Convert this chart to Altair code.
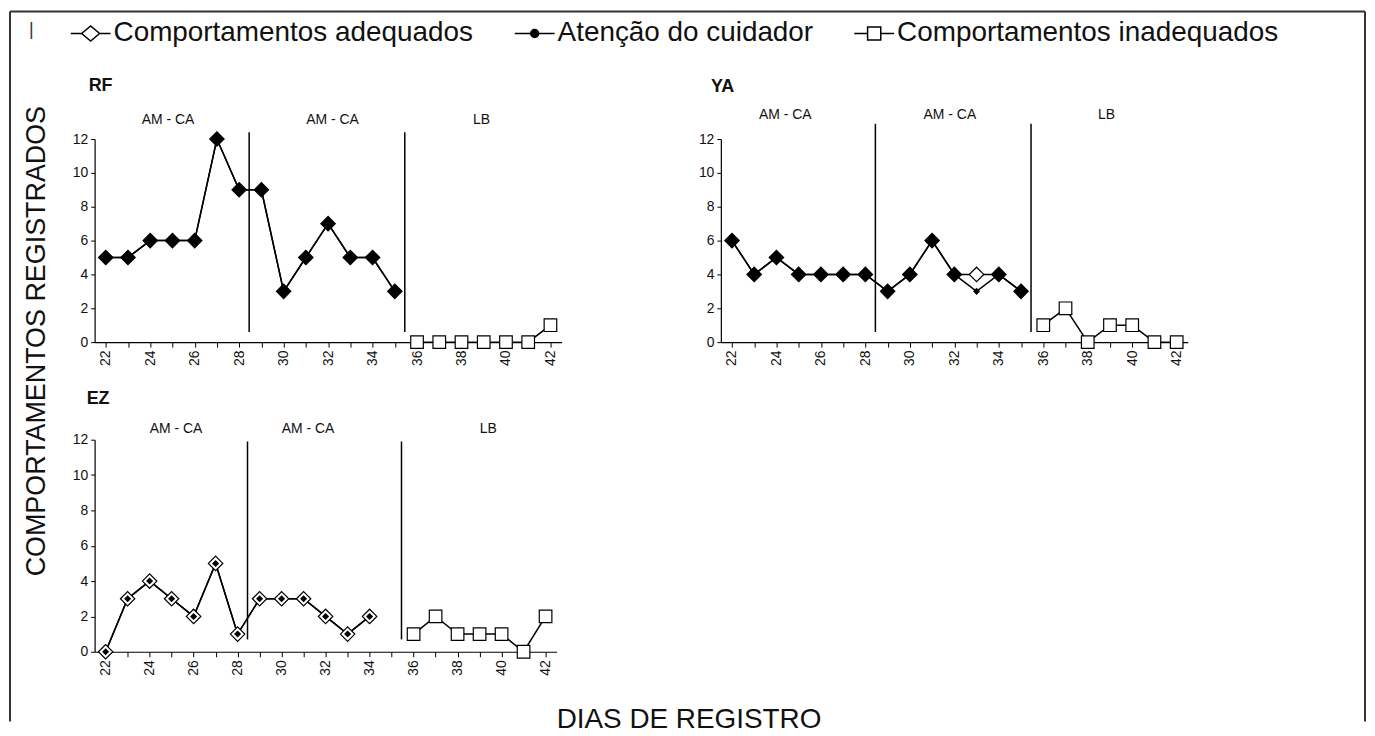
import altair as alt
import pandas as pd

# ---------------- data ----------------
DAYS_TREAT = [22, 23, 24, 25, 26, 27, 28, 29, 30, 31, 32, 33, 34, 35]
DAYS_TREAT_EZ = [22, 23, 24, 25, 26, 27, 28, 29, 30, 31, 32, 33, 34]
DAYS_LB = [36, 37, 38, 39, 40, 41, 42]

RF_ADEQUADOS = [5, 5, 6, 6, 6, 12, 9, 9, 3, 5, 7, 5, 5, 3]
RF_ATENCAO = [5, 5, 6, 6, 6, 12, 9, 9, 3, 5, 7, 5, 5, 3]
RF_INADEQUADOS = [0, 0, 0, 0, 0, 0, 1]

YA_ADEQUADOS = [6, 4, 5, 4, 4, 4, 4, 3, 4, 6, 4, 4, 4, 3]
YA_ATENCAO = [6, 4, 5, 4, 4, 4, 4, 3, 4, 6, 4, 3, 4, 3]
YA_INADEQUADOS = [1, 2, 0, 1, 1, 0, 0]

EZ_ADEQUADOS = [0, 3, 4, 3, 2, 5, 1, 3, 3, 3, 2, 1, 2]
EZ_ATENCAO = [0, 3, 4, 3, 2, 5, 1, 3, 3, 3, 2, 1, 2]
EZ_INADEQUADOS = [1, 2, 1, 1, 1, 0, 2]

SERIES = ["Comportamentos adequados", "Atenção do cuidador", "Comportamentos inadequados"]
PHASE_NAMES = ["AM - CA", "AM - CA", "LB"]
PHASE_CHANGES = [28.45, 35.45]
X_TICKS = list(range(22, 43))
Y_TICKS = [0, 2, 4, 6, 8, 10, 12]

# ---------------- styles ----------------
FONT = "Liberation Sans"
INK = "#111111"
LEGEND_SYMBOLS = [
    "M-1,0L-0.45,0M0.45,0L1,0M-0.45,0L0,-0.375L0.45,0L0,0.375Z",
    "M-1,0L1,0M-0.2,0A0.2,0.2,0,1,0,0.2,0A0.2,0.2,0,1,0,-0.2,0Z",
    "M-1,0L-0.33,0M0.33,0L1,0M-0.33,-0.33L0.33,-0.33L0.33,0.33L-0.33,0.33Z",
]
LEGEND_FILLS = ["white", "black", "white"]
LEGEND_STROKES = ["black", "black", "black"]

PANEL_CFG = {
    "RF": dict(width=469, height=204, label_x=[24.8, 32.2, 38.9], label_y=13.1,
               line_y=(0.6, 12.4), coincident=True, title_x=-6, title_y=-48),
    "YA": dict(width=469, height=204, label_x=[24.4, 31.8, 38.85], label_y=13.4,
               line_y=(0.6, 12.9), coincident=True, title_x=-10, title_y=-47),
    "EZ": dict(width=464, height=213, label_x=[25.2, 31.2, 39.4], label_y=12.6,
               line_y=(0.7, 11.9), coincident=False, title_x=-8, title_y=-36),
}


def panel(name, days_t, adeq, aten, inad, extra=()):
    cfg = PANEL_CFG[name]
    xs = alt.Scale(domain=[21.5, 42.5], nice=False, zero=False)
    ys = alt.Scale(domain=[0, 12], nice=False)
    x_axis = alt.Axis(values=X_TICKS, labelExpr="datum.value % 2 == 0 ? datum.label : ''",
                      labelAngle=270, title=None, grid=False, tickSize=5, labelPadding=3,
                      labelFlush=False, labelOverlap=False)
    y_axis = alt.Axis(values=Y_TICKS, title=None, grid=False, tickSize=4, labelPadding=3,
                      labelFlush=False, labelOverlap=False)
    X = alt.X("dia:Q", scale=xs, axis=x_axis)

    treat = pd.DataFrame({"dia": days_t, "adequados": adeq, "atencao": aten})
    lb = pd.DataFrame({"dia": DAYS_LB, "inadequados": inad})
    phases = pd.DataFrame({"dia": PHASE_CHANGES,
                           "y0": [cfg["line_y"][0]] * len(PHASE_CHANGES),
                           "y1": [cfg["line_y"][1]] * len(PHASE_CHANGES)})
    labels = pd.DataFrame({"dia": cfg["label_x"], "y": [cfg["label_y"]] * 3, "fase": PHASE_NAMES})

    rules = alt.Chart(phases).mark_rule(color="black", strokeWidth=1.5).encode(
        x=X, y=alt.Y("y0:Q", scale=ys, axis=y_axis), y2="y1:Q")
    ptext = alt.Chart(labels).mark_text(fontSize=14, color=INK, baseline="middle").encode(
        x=X, y=alt.Y("y:Q", scale=ys, axis=y_axis), text="fase:N")
    line_a = alt.Chart(treat).mark_line(color="black", strokeWidth=1.5).encode(
        x=X, y=alt.Y("adequados:Q", scale=ys, axis=y_axis))
    line_b = alt.Chart(treat).mark_line(color="black", strokeWidth=1.5).encode(
        x=X, y=alt.Y("atencao:Q", scale=ys, axis=y_axis))
    line_c = alt.Chart(lb).mark_line(color="black", strokeWidth=1.5).encode(
        x=X, y=alt.Y("inadequados:Q", scale=ys, axis=y_axis))
    if cfg["coincident"]:
        fill_a = alt.condition("datum.adequados == datum.atencao", alt.value("black"), alt.value("white"))
    else:
        fill_a = alt.value("white")
    pts_a = alt.Chart(treat).mark_point(shape="diamond", size=210, filled=True, stroke="black",
                                        strokeWidth=1.2, opacity=1).encode(
        x=X, y=alt.Y("adequados:Q", scale=ys, axis=y_axis), fill=fill_a)
    pts_b = alt.Chart(treat).mark_point(shape="diamond", size=50, filled=True, color="black",
                                        opacity=1).encode(
        x=X, y=alt.Y("atencao:Q", scale=ys, axis=y_axis))
    pts_c = alt.Chart(lb).mark_point(shape="square", size=160, filled=True, fill="white",
                                     stroke="black", strokeWidth=1.2, opacity=1).encode(
        x=X, y=alt.Y("inadequados:Q", scale=ys, axis=y_axis))
    title = alt.Chart(pd.DataFrame({"nome": [name]})).mark_text(
        fontSize=18, fontWeight="bold", color=INK, align="left", baseline="alphabetic").encode(
        x=alt.value(cfg["title_x"]), y=alt.value(cfg["title_y"]), text="nome:N")
    return alt.layer(rules, ptext, line_a, line_b, line_c, pts_a, pts_b, pts_c, title,
                     *extra).properties(width=cfg["width"], height=cfg["height"])


one = pd.DataFrame({"k": [0]})
frame_style = dict(color="#333333", strokeWidth=2)
frame_left = alt.Chart(one).mark_rule(**frame_style).encode(
    x=alt.value(-85), y=alt.value(-128), y2=alt.value(585))
frame_top = alt.Chart(one).mark_rule(**frame_style).encode(
    x=alt.value(-85), x2=alt.value(1276), y=alt.value(-128))
frame_right = alt.Chart(one).mark_rule(**frame_style).encode(
    x=alt.value(1276), y=alt.value(-128), y2=alt.value(585))
y_title = alt.Chart(pd.DataFrame({"t": ["COMPORTAMENTOS REGISTRADOS"]})).mark_text(
    fontSize=27, color=INK, angle=270, align="center", baseline="middle").encode(
    x=alt.value(-58), y=alt.value(203), text="t:N")

leg = alt.Legend(title="|", orient="none", legendX=-66, legendY=-127, direction="horizontal",
                 columns=3, columnPadding=38, labelOffset=2, labelFontSize=28, labelFont=FONT,
                 labelColor=INK, labelLimit=800, symbolSize=1600, symbolStrokeWidth=1.5,
                 symbolStrokeColor="black", titleOrient="left", titleFontSize=18,
                 titleFontWeight="normal", titleColor="#333333", titlePadding=36, padding=0)
legend_src = alt.Chart(pd.DataFrame({"serie": SERIES})).transform_filter("false").mark_point(
    filled=True, strokeWidth=1.5, opacity=1).encode(
    shape=alt.Shape("serie:N", scale=alt.Scale(domain=SERIES, range=LEGEND_SYMBOLS), legend=leg),
    fill=alt.Fill("serie:N", scale=alt.Scale(domain=SERIES, range=LEGEND_FILLS), legend=leg),
    stroke=alt.Stroke("serie:N", scale=alt.Scale(domain=SERIES, range=LEGEND_STROKES), legend=leg))

x_title = alt.Chart(pd.DataFrame({"t": ["DIAS DE REGISTRO"]})).mark_text(
    fontSize=28, color=INK, align="center", baseline="middle").encode(
    x=alt.value(597), y=alt.value(282), text="t:N")

rf = panel("RF", DAYS_TREAT, RF_ADEQUADOS, RF_ATENCAO, RF_INADEQUADOS,
           extra=(frame_left, frame_top, frame_right, y_title, legend_src))
ya = panel("YA", DAYS_TREAT, YA_ADEQUADOS, YA_ATENCAO, YA_INADEQUADOS)
ez = panel("EZ", DAYS_TREAT_EZ, EZ_ADEQUADOS, EZ_ATENCAO, EZ_INADEQUADOS, extra=(x_title,))

chart = alt.concat(rf, ya, ez, columns=2, spacing={"row": 98, "column": 160},
                   bounds="flush").properties(padding=0).configure(
    font=FONT).configure_view(stroke="transparent").configure_axis(
    domainColor="black", tickColor="black", labelColor=INK, labelFontSize=14, labelFont=FONT,
    domainWidth=1.2, tickWidth=1)

chart.save("out.html", embed_options={"renderer": "svg", "actions": False})
